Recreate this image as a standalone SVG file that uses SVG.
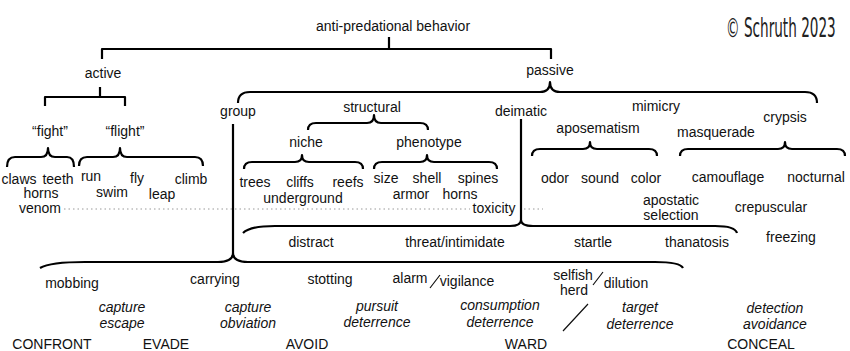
<svg xmlns="http://www.w3.org/2000/svg" width="850" height="351" viewBox="0 0 850 351">
<style>
text{font-family:"Liberation Sans",Arial,sans-serif;font-size:14px;fill:#111;text-anchor:middle}
.it{font-style:italic}
.br{fill:none;stroke:#000;stroke-width:2.2;stroke-linecap:butt;stroke-linejoin:round}
.sl{fill:none;stroke:#111;stroke-width:1.2}
.dot{fill:none;stroke:#999;stroke-width:1;stroke-dasharray:1.5 3}
.cp{font-family:"DejaVu Sans Condensed","DejaVu Sans",sans-serif;font-size:27px;fill:#222;text-anchor:start}
</style>
<rect width="850" height="351" fill="#fff"/>
<g id="connectors">
<path class="dot" d="M64,209 H470 M524,209 H543"/>
<path class="br" d="M389,37 V49 M102,59 V49 H551 V59"/>
<path class="br" d="M100,87 V97 M45,106 V97 H125 V106"/>
<path class="br" d="M7,167 Q7,157 15,157 H41 Q48,157 48,148 Q48,157 55,157 H67 Q74,157 74,167"/>
<path class="br" d="M79,166 Q79,157 87,157 H113 Q120,157 120,148 Q120,157 127,157 H195 Q203,157 203,166"/>
<path class="br" d="M238,103 Q238,92 250,92 H540 Q550,92 550,82 Q550,92 560,92 H805 Q817,92 817,103"/>
<path class="br" d="M308,130 Q308,123 316,123 H367 Q374,123 374,115 Q374,123 381,123 H420 Q428,123 428,130"/>
<path class="br" d="M244,169 Q244,162 252,162 H295 Q302,162 302,155 Q302,162 309,162 H355 Q363,162 363,169"/>
<path class="br" d="M374,169 Q374,162 382,162 H420 Q427,162 427,155 Q427,162 434,162 H489 Q497,162 497,169"/>
<path class="br" d="M532,156 Q532,149 540,149 H583 Q590,149 590,142 Q590,149 597,149 H649 Q657,149 657,156"/>
<path class="br" d="M680,156 Q680,149 688,149 H778 Q785,149 785,142 Q785,149 792,149 H837 Q845,149 845,156"/>
<path class="br" d="M233,124 V253"/>
<path class="br" d="M521,119 V220"/>
<path class="br" d="M243,233 Q250,226 275,226 H510 Q521,226 521,220 Q521,226 533,226 H715 Q735,226 737,233"/>
<path class="br" d="M40,268 Q50,262 85,262 H218 Q233,262 233,253 Q233,262 248,262 H655 Q680,262 683,268"/>
<path class="sl" d="M430,288 L440,275 M593,285 L603,272 M563,331 L588,304"/>
</g>
<g id="copyright"><text class="cp" transform="translate(726,37) scale(0.56,1)" x="0" y="0">© Schruth 2023</text></g>
<g id="root"><text x="393" y="31">anti-predational behavior</text></g>
<g id="active"><text x="103" y="78">active</text></g>
<g id="passive"><text x="550" y="75">passive</text></g>
<g id="fight"><text x="50" y="136">“fight”</text></g>
<g id="flight"><text x="125" y="136">“flight”</text></g>
<g id="fight-leaves">
<text x="19" y="184">claws</text><text x="58" y="184">teeth</text>
<text x="41" y="198">horns</text><text x="40" y="213">venom</text>
</g>
<g id="flight-leaves">
<text x="91" y="181">run</text><text x="112" y="197">swim</text>
<text x="137" y="183">fly</text><text x="162" y="199">leap</text><text x="191" y="184">climb</text>
</g>
<g id="group"><text x="238" y="116">group</text></g>
<g id="structural"><text x="372" y="112">structural</text></g>
<g id="niche"><text x="306" y="147">niche</text></g>
<g id="phenotype"><text x="429" y="147">phenotype</text></g>
<g id="niche-leaves">
<text x="255" y="187">trees</text><text x="300" y="187">cliffs</text><text x="348" y="187">reefs</text>
<text x="303" y="203">underground</text>
</g>
<g id="phenotype-leaves">
<text x="386" y="183">size</text><text x="427" y="183">shell</text><text x="478" y="183">spines</text>
<text x="411" y="199">armor</text><text x="460" y="199">horns</text>
</g>
<g id="toxicity"><text x="494" y="213">toxicity</text></g>
<g id="deimatic"><text x="521" y="116">deimatic</text></g>
<g id="mimicry"><text x="656" y="111">mimicry</text></g>
<g id="aposematism"><text x="598" y="133">aposematism</text></g>
<g id="masquerade"><text x="716" y="137">masquerade</text></g>
<g id="crypsis"><text x="785" y="122">crypsis</text></g>
<g id="aposematism-leaves">
<text x="555" y="183">odor</text><text x="600" y="183">sound</text><text x="646" y="183">color</text>
</g>
<g id="crypsis-leaves">
<text x="728" y="182">camouflage</text><text x="816" y="182">nocturnal</text>
<text x="771" y="212">crepuscular</text><text x="791" y="242">freezing</text>
</g>
<g id="apostatic"><text x="671" y="205">apostatic</text><text x="671" y="220">selection</text></g>
<g id="deimatic-leaves">
<text x="311" y="247">distract</text><text x="455" y="247">threat/intimidate</text>
<text x="593" y="247">startle</text><text x="697" y="247">thanatosis</text>
</g>
<g id="group-leaves">
<text x="72" y="288">mobbing</text><text x="215" y="284">carrying</text>
<text x="330" y="284">stotting</text><text x="410" y="283">alarm</text>
<text x="467" y="286">vigilance</text>
<text x="573" y="280">selfish</text><text x="574" y="295">herd</text>
<text x="626" y="288">dilution</text>
</g>
<g id="functions">
<text class="it" x="122" y="312">capture</text><text class="it" x="122" y="328">escape</text>
<text class="it" x="248" y="312">capture</text><text class="it" x="248" y="328">obviation</text>
<text class="it" x="377" y="311">pursuit</text><text class="it" x="377" y="327">deterrence</text>
<text class="it" x="500" y="310">consumption</text><text class="it" x="500" y="327">deterrence</text>
<text class="it" x="640" y="312">target</text><text class="it" x="640" y="329">deterrence</text>
<text class="it" x="775" y="313">detection</text><text class="it" x="775" y="329">avoidance</text>
</g>
<g id="strategies">
<text x="52" y="349">CONFRONT</text><text x="166" y="349">EVADE</text>
<text x="307" y="349">AVOID</text><text x="526" y="349">WARD</text>
<text x="761" y="349">CONCEAL</text>
</g>
</svg>
